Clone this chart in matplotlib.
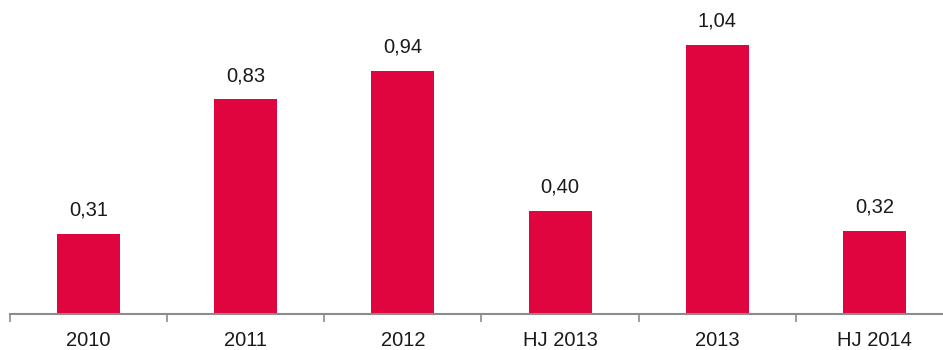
import numpy as np
import matplotlib
matplotlib.use("Agg")
import matplotlib.pyplot as plt

# data
cats = ["2010", "2011", "2012", "HJ 2013", "2013", "HJ 2014"]
vals = [0.31, 0.83, 0.94, 0.40, 1.04, 0.32]
labs = ["0,31", "0,83", "0,94", "0,40", "1,04", "0,32"]

# plotstyle
plt.rcParams['font.family'] = ['Liberation Sans', 'DejaVu Sans']
red = '#E0043F'
gray = '#8C8C8C'
FS = 14.5

W, H = 943, 350
f0 = plt.figure(figsize=(W/100, H/100), dpi=100)
ax0 = f0.add_axes([10/W, 36/H, 943/W, 314/H])

x = np.arange(len(cats))
ax0.bar(x, vals, width=0.4, color=red)
for xi, v, s in zip(x, vals, labs):
    ax0.text(xi, v + 0.055, s, ha='center', va='bottom', fontsize=FS, color='#1a1a1a')

ax0.set_xlim(-0.5, len(cats) - 0.5)
ax0.set_ylim(0, 314/258.7)

for s in ['top', 'right', 'left']:
    ax0.spines[s].set_visible(False)
ax0.spines['bottom'].set_color(gray)
ax0.spines['bottom'].set_linewidth(1.5)
ax0.set_yticks([])

ax0.set_xticks(np.arange(len(cats) + 1) - 0.5)
ax0.set_xticklabels([])
ax0.tick_params(axis='x', which='major', length=6, width=1.2, color=gray, direction='out')
ax0.set_xticks(x, minor=True)
ax0.set_xticklabels(cats, minor=True)
ax0.tick_params(axis='x', which='minor', length=0, pad=12, labelsize=FS, labelcolor='#1a1a1a')

f0.savefig("out.png", dpi=100)
